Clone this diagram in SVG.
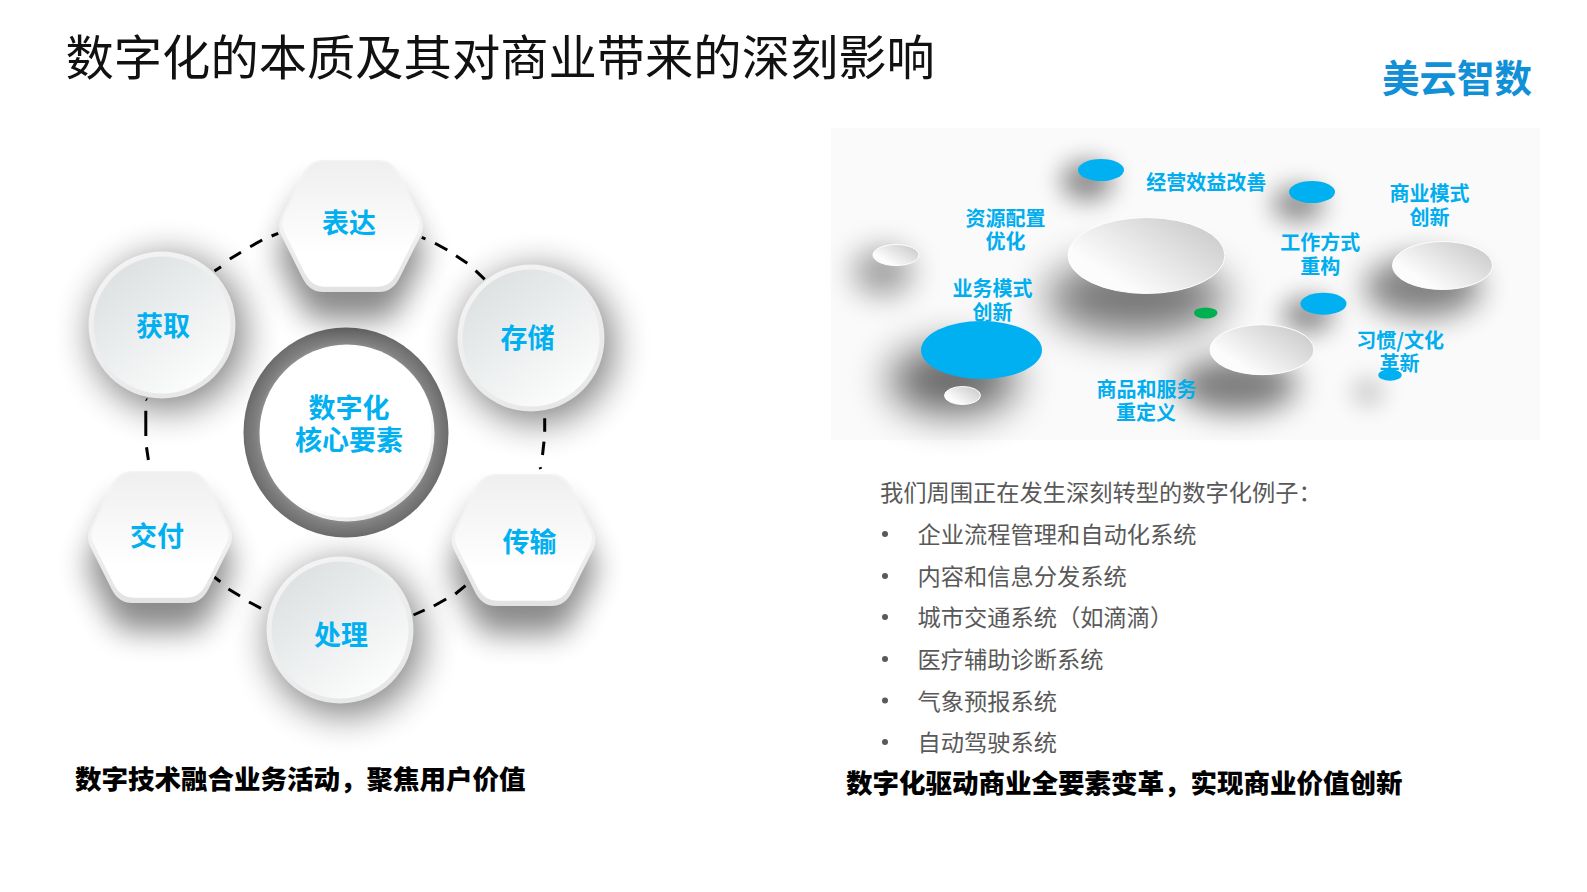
<svg xmlns="http://www.w3.org/2000/svg" width="1587" height="892" viewBox="0 0 1587 892">
<style>
text{font-family:"Noto Sans CJK SC","Noto Sans",sans-serif}
.title{font-size:48.3px;fill:#111}
.logo{font-size:37.5px;font-weight:700;fill:#1190d8}
.lbl{font-size:27px;font-weight:700;fill:#00b0f0;text-anchor:middle}
.tag{font-size:20px;font-weight:700;fill:#00aeef;text-anchor:middle}
.body{font-size:23.25px;fill:#595959}
.cap{font-size:26.5px;font-weight:900;fill:#000}
.dash{fill:none;stroke:#000;stroke-width:3}
.sh{fill:#000}
.blue{fill:#00b0f0}
.white{fill:url(#plate);stroke:#fff;stroke-width:1}
</style>
<defs>
<filter id="b9" x="-100%" y="-100%" width="300%" height="300%"><feGaussianBlur stdDeviation="12"/></filter>
<filter id="b12" x="-60%" y="-60%" width="220%" height="220%"><feGaussianBlur stdDeviation="15"/></filter>
<filter id="b14" x="-60%" y="-60%" width="220%" height="220%"><feGaussianBlur stdDeviation="18"/></filter>
<filter id="b18" x="-60%" y="-80%" width="220%" height="260%"><feGaussianBlur stdDeviation="20"/></filter>
<linearGradient id="hexOut" x1="0" y1="0" x2="0" y2="1"><stop offset="0" stop-color="#f4f4f4"/><stop offset="0.5" stop-color="#f2f2f2"/><stop offset="1" stop-color="#e2e2e2"/></linearGradient>
<linearGradient id="hexIn" x1="0" y1="0" x2="0" y2="1"><stop offset="0" stop-color="#efefef"/><stop offset="0.75" stop-color="#fff"/><stop offset="1" stop-color="#fff"/></linearGradient>
<linearGradient id="cirOut" x1="0.2" y1="0" x2="0.8" y2="1"><stop offset="0" stop-color="#f4f4f4"/><stop offset="1" stop-color="#e6e6e6"/></linearGradient>
<linearGradient id="cirIn" x1="0.2" y1="0.1" x2="0.8" y2="0.9"><stop offset="0" stop-color="#dee2e3"/><stop offset="1" stop-color="#fbfcfc"/></linearGradient>
<linearGradient id="plate" x1="0.1" y1="0.8" x2="0.9" y2="0.2"><stop offset="0.15" stop-color="#fcfcfc"/><stop offset="1" stop-color="#cfcfcf"/></linearGradient>
<radialGradient id="ring" cx="0.5" cy="0.5" r="0.5"><stop offset="0.8" stop-color="#999"/><stop offset="0.88" stop-color="#808080"/><stop offset="1" stop-color="#6c6c6c"/></radialGradient>
<linearGradient id="core" x1="0.2" y1="0.1" x2="0.8" y2="0.95"><stop offset="0.6" stop-color="#fff"/><stop offset="1" stop-color="#e2e2e2"/></linearGradient>
<path id="hex" d="M-28,-66L28,-66Q41,-66 48,-53L70,-9Q74,0 70,9L48,53Q41,66 28,66L-28,66Q-41,66 -48,53L-70,9Q-74,0 -70,-9L-48,-53Q-41,-66 -28,-66Z"/>
</defs>
<rect width="1587" height="892" fill="#fff"/>
<text id="title" class="title" x="65.500" y="75">数字化的本质及其对商业带来的深刻影响</text>
<text id="logo" class="logo" x="1382" y="92">美云智数</text>

<g id="connectors">
<path class="dash" d="M214.5,271L221,266.7M229.8,259L241,252.3M250.2,246.7L262.2,240M271.6,236L278.2,233.3"/>
<path class="dash" d="M421.8,237.3L425.5,239M435,243.3L447.3,250M456,255.7L467.3,263.3M475.6,270.7L484.7,279.3"/>
<path class="dash" d="M544.7,418.3L544.7,431.7M544,441.7L542.5,455M540,467.3L540.7,469"/>
<path class="dash" d="M146,399.3L147,400M145.8,410.7L145.8,436M146.5,447.3L148.4,460"/>
<path class="dash" d="M465.5,585.7L455.3,594M446.2,599L433.8,606M424.7,610L413.5,615"/>
<path class="dash" d="M213.8,576.7L220.4,581.7M228.4,589L240,596M249,602L261,608.3"/>
</g>

<g id="node-core">
<ellipse cx="346" cy="432.5" rx="102.500" ry="105" fill="url(#ring)"/>
<ellipse cx="347" cy="433" rx="87.5" ry="88.5" fill="url(#core)"/>
<circle cx="346" cy="432" r="85.500" fill="#fff"/>
<text class="lbl" x="349" y="418">数字化</text>
<text class="lbl" x="349" y="450">核心要素</text>
</g>
<g id="node-biaoda" transform="translate(351,226)">
<use href="#hex" class="sh" opacity="0.46" filter="url(#b12)" y="28"/>
<use href="#hex" fill="url(#hexOut)"/>
<use href="#hex" fill="url(#hexIn)" transform="translate(0,-2) scale(0.95)"/>
<text class="lbl" x="-2" y="7">表达</text>
</g>
<g id="node-huoqu">
<circle cx="168" cy="333" r="77" class="sh" opacity="0.48" filter="url(#b14)"/>
<circle cx="162" cy="325" r="73.500" fill="url(#cirOut)"/>
<circle cx="162" cy="325" r="68.500" fill="url(#cirIn)"/>
<text class="lbl" x="163" y="336">获取</text>
</g>
<g id="node-cunchu">
<circle cx="537" cy="346" r="77" class="sh" opacity="0.48" filter="url(#b14)"/>
<circle cx="531" cy="338" r="73.500" fill="url(#cirOut)"/>
<circle cx="531" cy="338" r="68.500" fill="url(#cirIn)"/>
<text class="lbl" x="527.500" y="348">存储</text>
</g>
<g id="node-chuanshu" transform="translate(523.500,540)">
<use href="#hex" class="sh" opacity="0.46" filter="url(#b12)" y="28"/>
<use href="#hex" fill="url(#hexOut)"/>
<use href="#hex" fill="url(#hexIn)" transform="translate(0,-2) scale(0.95)"/>
<text class="lbl" x="6" y="12">传输</text>
</g>
<g id="node-chuli">
<circle cx="345" cy="639" r="77" class="sh" opacity="0.48" filter="url(#b14)"/>
<circle cx="340" cy="630" r="73.500" fill="url(#cirOut)"/>
<circle cx="340" cy="630" r="68.500" fill="url(#cirIn)"/>
<text class="lbl" x="341" y="645">处理</text>
</g>
<g id="node-jiaofu" transform="translate(160,537)">
<use href="#hex" class="sh" opacity="0.46" filter="url(#b12)" y="28"/>
<use href="#hex" fill="url(#hexOut)"/>
<use href="#hex" fill="url(#hexIn)" transform="translate(0,-2) scale(0.95)"/>
<text class="lbl" x="-3" y="9">交付</text>
</g>

<text class="cap" x="75" y="788.500">数字技术融合业务活动，聚焦用户价值</text>

<g id="panel">
<rect x="831" y="128" width="709" height="312" fill="#fafafa"/>
<ellipse class="sh" cx="1087" cy="181" rx="26" ry="20" opacity="0.44" filter="url(#b9)"/>
<ellipse class="sh" cx="883" cy="272" rx="30" ry="24" opacity="0.36" filter="url(#b12)"/>
<ellipse class="sh" cx="1136" cy="297" rx="90" ry="38" opacity="0.52" filter="url(#b18)"/>
<ellipse class="sh" cx="953" cy="380" rx="64" ry="34" opacity="0.6" filter="url(#b18)"/>
<ellipse class="sh" cx="1298" cy="204" rx="26" ry="18" opacity="0.42" filter="url(#b9)"/>
<ellipse class="sh" cx="1308" cy="315" rx="26" ry="18" opacity="0.42" filter="url(#b9)"/>
<ellipse class="sh" cx="1423" cy="287" rx="58" ry="30" opacity="0.48" filter="url(#b12)"/>
<ellipse class="sh" cx="1237" cy="385" rx="60" ry="28" opacity="0.5" filter="url(#b12)"/>
<ellipse class="sh" cx="1368" cy="392" rx="14" ry="12" opacity="0.26" filter="url(#b9)"/>
<ellipse class="blue" cx="1101" cy="170" rx="23" ry="11"/>
<ellipse class="white" cx="896" cy="255" rx="23" ry="10.500"/>
<ellipse class="white" cx="1146.500" cy="255.500" rx="78.500" ry="38"/>
<ellipse class="blue" cx="981.500" cy="350" rx="60.500" ry="29"/>
<ellipse class="white" cx="962.500" cy="395.500" rx="18" ry="9"/>
<ellipse class="blue" cx="1312" cy="192" rx="23" ry="11"/>
<ellipse class="white" cx="1442.500" cy="265.500" rx="50" ry="24"/>
<ellipse class="blue" cx="1323.500" cy="303.700" rx="23" ry="11"/>
<ellipse cx="1205.700" cy="313" rx="11.700" ry="5.500" fill="#00b050"/>
<ellipse class="white" cx="1262" cy="349.700" rx="52" ry="25"/>
<text class="tag" y="225.600"><tspan x="1005.500">资源配置</tspan><tspan x="1005.500" dy="23.200">优化</tspan></text>
<text class="tag" y="295.600"><tspan x="992.500">业务模式</tspan><tspan x="992.500" dy="24">创新</tspan></text>
<text class="tag" x="1206.300" y="189.900">经营效益改善</text>
<text class="tag" y="396.900"><tspan x="1146.500">商品和服务</tspan><tspan x="1146" dy="23">重定义</tspan></text>
<text class="tag" y="200.900"><tspan x="1429.500">商业模式</tspan><tspan x="1429.500" dy="24">创新</tspan></text>
<text class="tag" y="249.900"><tspan x="1320.200">工作方式</tspan><tspan x="1320.200" dy="23.700">重构</tspan></text>
<text class="tag" y="347.600"><tspan x="1400.200">习惯/文化</tspan><tspan x="1399.500" dy="23.500">革新</tspan></text>
<ellipse class="blue" cx="1390" cy="375" rx="11.700" ry="5.700"/>
</g>

<g id="list">
<text class="body" x="880" y="501">我们周围正在发生深刻转型的数字化例子：</text>
<g fill="#595959">
<circle cx="885" cy="534" r="3"/><circle cx="885" cy="576" r="3"/><circle cx="885" cy="617" r="3"/><circle cx="885" cy="659" r="3"/><circle cx="885" cy="700.500" r="3"/><circle cx="885" cy="742" r="3"/>
</g>
<text class="body" x="917.500" y="543">企业流程管理和自动化系统</text>
<text class="body" x="917.500" y="584.500">内容和信息分发系统</text>
<text class="body" x="917.500" y="626">城市交通系统（如滴滴）</text>
<text class="body" x="917.500" y="667.500">医疗辅助诊断系统</text>
<text class="body" x="917.500" y="710">气象预报系统</text>
<text class="body" x="917.500" y="751">自动驾驶系统</text>
</g>
<text class="cap" x="846" y="793">数字化驱动商业全要素变革，实现商业价值创新</text>
</svg>
